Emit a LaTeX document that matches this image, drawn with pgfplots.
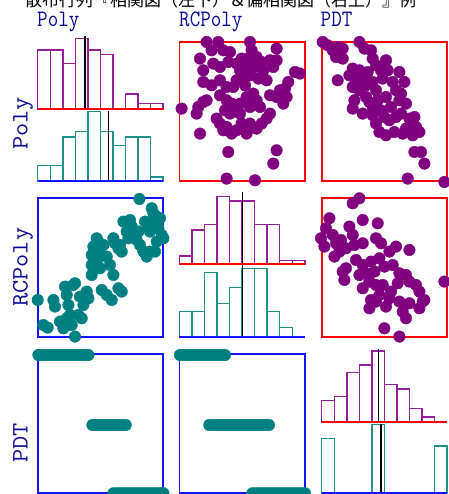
\documentclass[border=0pt]{standalone}
\usepackage{pgfplots}
\pgfplotsset{compat=1.18}
\usepackage{fontspec}
\setmainfont{Liberation Sans}
\newfontfamily\cjk{Noto Sans CJK JP}
\definecolor{ppurple}{RGB}{128,0,128}
\definecolor{tteal}{RGB}{0,128,128}
\definecolor{hpurple}{RGB}{150,30,155}
\definecolor{hteal}{RGB}{30,145,140}
\definecolor{labblue}{RGB}{10,10,150}
\definecolor{fblue}{RGB}{20,20,255}
\newcommand\hlab[1]{\textcolor{labblue}{\scalebox{1}[1.15]{\fontsize{20.5bp}{20.5bp}\selectfont\ttfamily #1}}}
\newcommand\vlab[1]{\textcolor{labblue}{\scalebox{1.25}[1.15]{\fontsize{20.5bp}{20.5bp}\selectfont\ttfamily #1}}}
\pgfplotsset{
  panel/.style={scale only axis, width=125.5bp, height=139bp, xmin=0, xmax=125.5, ymin=0, ymax=139,
    xtick=\empty, ytick=\empty, clip=false, anchor=south west, axis line style={draw=none}},
  hist/.style={scale only axis, width=125.5bp, height=#1 bp, xmin=0, xmax=125.5, ymin=0, ymax=#1,
    hide axis, clip=false, anchor=south west},
  pp/.style={only marks, color=ppurple, mark=*, mark size=5.8pt, mark options={draw=ppurple, fill=ppurple}},
  tp/.style={only marks, color=tteal, mark=*, mark size=5.8pt, mark options={draw=tteal, fill=tteal}},
  hb/.style={ybar interval, draw=#1, fill=none, line width=1.5bp},
}
\newcommand\frm[1]{\draw[#1, line width=1.6bp] (rel axis cs:0,0) rectangle (rel axis cs:1,1);}
\begin{document}
\begin{tikzpicture}
\useasboundingbox (0bp,0bp) rectangle (449bp,494bp);
% title (partly cut off at the top)
\node[anchor=base west, inner sep=0pt] at (25bp,487bp) {\fontsize{17bp}{17bp}\selectfont\cjk 散布行列『相関図（左下）＆偏相関図（右上）』例};
% column labels
\node[anchor=base west, inner sep=0pt] at (37bp,467.5bp) {\hlab{Poly}};
\node[anchor=base west, inner sep=0pt] at (179bp,467.5bp) {\hlab{RCPoly}};
\node[anchor=base west, inner sep=0pt] at (320.5bp,467.5bp) {\hlab{PDT}};
% row labels
\node[anchor=base west, rotate=90, inner sep=0pt] at (27.5bp,344bp) {\vlab{Poly}};
\node[anchor=base west, rotate=90, inner sep=0pt] at (27.5bp,187bp) {\vlab{RCPoly}};
\node[anchor=base west, rotate=90, inner sep=0pt] at (27.5bp,31bp) {\vlab{PDT}};

% ===== diagonal 1 (Poly) =====
\begin{axis}[hist=72.3, at={(37.7bp,312.7bp)}]
\addplot[hb=hteal] coordinates {(0,16) (12.55,16) (25.1,44.3) (37.65,50) (50.2,70) (62.75,50) (75.3,36) (87.85,44.3) (100.4,44.3) (112.95,4.3) (125.5,0)};
\addplot[black, line width=1.2bp] coordinates {(70.7,0) (70.7,70)};
\addplot[fblue, line width=1.6bp] coordinates {(0,0) (125.5,0)};
\end{axis}
\begin{axis}[hist=66, at={(37.7bp,385bp)}]
\addplot[hb=hpurple] coordinates {(0,59) (12.55,59) (25.1,45.7) (37.65,70.7) (50.2,59) (62.75,54.7) (75.3,0) (87.85,15) (100.4,5.3) (112.95,5.3) (125.5,0)};
\addplot[black, line width=1.2bp] coordinates {(47.3,0) (47.3,73.3)};
\addplot[red, line width=1.6bp] coordinates {(0,0) (125.5,0)};
\end{axis}

% ===== diagonal 2 (RCPoly) =====
\begin{axis}[hist=73.3, at={(179.3bp,156.7bp)}]
\addplot[hb=hteal] coordinates {(0,25.7) (12.55,25.7) (25.1,65) (37.65,33.7) (50.2,49.7) (62.75,69) (75.3,69) (87.85,25.7) (100.4,9.7) (112.95,0) (125.5,0)};
\addplot[black, line width=1.2bp] coordinates {(63,0) (63,73.3)};
\addplot[fblue, line width=1.6bp] coordinates {(0,0) (125.5,0)};
\end{axis}
\begin{axis}[hist=65.7, at={(179.3bp,230bp)}]
\addplot[hb=hpurple] coordinates {(0,8) (12.55,34) (25.1,39.7) (37.65,67.3) (50.2,63) (62.75,63) (75.3,39.7) (87.85,39.7) (100.4,3.7) (112.95,3.7) (125.5,0)};
\addplot[black, line width=1.2bp] coordinates {(63,0) (63,71.7)};
\addplot[red, line width=1.6bp] coordinates {(0,0) (125.5,0)};
\end{axis}

% ===== diagonal 3 (PDT) =====
\begin{axis}[hist=71, at={(321.7bp,0.7bp)}]
\addplot[hb=hteal] coordinates {(0,55) (12.55,0) (25.1,0) (37.65,0) (50.2,69) (62.75,0) (75.3,0) (87.85,0) (100.4,0) (112.95,47.3) (125.5,0)};
\addplot[black, line width=1.2bp] coordinates {(59.3,0) (59.3,69.3)};
\addplot[fblue, line width=1.6bp] coordinates {(0,0) (125.5,0)};
\end{axis}
\begin{axis}[hist=68, at={(321.7bp,71.7bp)}]
\addplot[hb=hpurple] coordinates {(0,21.7) (12.55,25.7) (25.1,49.7) (37.65,57.3) (50.2,71.3) (62.75,38) (75.3,33.3) (87.85,13.7) (100.4,5.3) (112.95,0) (125.5,0)};
\addplot[black, line width=1.2bp] coordinates {(56.7,0) (56.7,73.3)};
\addplot[red, line width=1.6bp] coordinates {(0,0) (125.5,0)};
\end{axis}

% ===== row1 col2 : Poly vs RCPoly (partial) =====
\begin{axis}[panel, at={(179.3bp,312.7bp)}]
\frm{red}
\addplot[pp] coordinates {
(27.3,139.3) (39,139.3) (32.3,131) (44,131) (50.7,129.3) (70.7,139.3) (72.3,131) (97.3,132.7)
(20.7,122.7) (24,111) (34,117.7) (40.7,114.3) (49,119.3) (57.3,117.7) (62.3,122.7) (69,122.7)
(77.3,124.3) (82.3,119.3) (90.7,121) (97.3,121) (60.7,111) (67.3,112.7) (75.7,114.3) (84,111)
(94,114.3) (70.7,106) (64,104.3) (57.3,101) (24,99.3) (32.3,96) (40.7,101) (47.3,94.3) (54,94.3)
(65.7,96) (79,102.7) (87.3,101) (120.7,107.7) (115.7,109.3) (109,99.3) (105.7,92.7) (100.7,91)
(90.7,86) (107.3,84.3) (104,77.7) (97.3,84.3) (40.7,86) (47.3,81) (52.3,77.7) (60.7,77.7)
(67.3,84.3) (74,87.7) (77.3,81) (70.7,74.3) (80.7,74.3) (2.3,72.7) (19,74.3) (24,79.3) (27.3,81)
(17.3,67.7) (45.7,71) (50.7,67.7) (55.7,71) (60.7,67.7) (37.3,62.7) (40.7,57.7) (47.3,54.3)
(57.3,51) (67.3,47.7) (77.3,52.7) (82.3,57.7) (87.3,62.7) (90.7,67.7) (70.7,57.7) (62.3,57.7)
(52.3,47.7) (44,51) (20.7,47.7) (49,29.3) (97.3,31) (94,17.7) (47.3,2.7) (75.7,1)
};
\end{axis}

% ===== row1 col3 : Poly vs PDT (partial) =====
\begin{axis}[panel, at={(321.7bp,312.7bp)}]
\frm{red}
\addplot[pp] coordinates {
(1,139.3) (6,136) (11,131) (16,134.3) (21,132.7) (14.3,124.3) (21,122.7) (37.7,139.3) (42.7,132.7)
(49.3,131) (51,122.7) (54.3,116) (64.3,121) (59.3,111) (66,111) (31,112.7) (37.7,111) (46,109.3)
(27.7,106) (34.3,101) (41,104.3) (16,101) (31,94.3) (37.7,91) (44.3,96) (51,99.3) (61,102.7)
(71,99.3) (77.7,109.3) (82.7,99.3) (79.3,87.7) (74.3,91) (54.3,91) (64.3,84.3) (56,81) (51,74.3)
(59.3,71) (69.3,74.3) (77.7,81) (84.3,77.7) (32.7,81) (31,72.7) (41,67.7) (51,66) (62.7,64.3)
(67.7,61) (74.3,64.3) (79.3,67.7) (87.7,62.7) (92.7,64.3) (84.3,52.7) (94.3,54.3) (97.7,49.3)
(54.3,57.7) (57.7,49.3) (64.3,46) (72.7,49.3) (81,47.7) (91,46) (92.7,29.3) (99.3,29.3)
(102.7,17.7) (86,2.7) (122.7,-0.7) (44.3,84.3) (47.7,79.3)
};
\end{axis}

% ===== row2 col1 : RCPoly vs Poly =====
\begin{axis}[panel, at={(37.7bp,156.7bp)}]
\frm{fblue}
\addplot[tp] coordinates {
(101.7,138.3) (0,37.3) (5.7,12.3) (10,9.7) (37.3,0.7) (15.7,37.3) (17.3,30.7) (22.3,15.7)
(27.3,50.7) (29,42.3) (30.7,32.3) (32.3,22.3) (34,12.3) (35.7,52.3) (37.3,54) (42.3,40.7)
(45.7,32.3) (49,45.7) (50.7,39) (40.7,22.3) (44,19) (29,19) (25.7,9) (54,62.3) (55.7,69)
(59,75.7) (62.3,82.3) (60.7,95.7) (59,99) (55.7,90.7) (54,82.3) (57.3,85.7) (54,72.3)
(65.7,92.3) (69,80.7) (72.3,72.3) (75.7,62.3) (62.3,69) (64,47.3) (69,42.3) (74,37.3)
(80.7,49) (84,45.7) (75.7,99) (77.3,94) (80.7,89) (84,85.7) (82.3,92.3) (85.7,115.7)
(92.3,117.3) (94,110.7) (89,105.7) (90.7,99) (95.7,102.3) (99,97.3) (100.7,105.7) (102.3,92.3)
(105.7,85.7) (109,80.7) (107.3,115.7) (110.7,110.7) (112.3,105.7) (115.7,115.7) (114,129)
(115.7,124) (119,120.7) (122.3,119) (120.7,109) (124,102.3) (125.7,99) (119,95.7) (117.3,85.7)
(112.3,85.7)
};
\end{axis}

% ===== row2 col3 : RCPoly vs PDT (partial) =====
\begin{axis}[panel, at={(321.7bp,156.7bp)}]
\frm{red}
\addplot[pp] coordinates {
(31,134) (37.7,139) (7.7,119) (4.3,109) (-0.7,99) (2.7,90.7) (11,102.3) (14.3,94) (19.3,97.3)
(12.7,80.7) (17.7,85.7) (27.7,110.7) (31,102.3) (41,117.3) (56,114) (24.3,89) (32.7,92.3)
(41,94) (54.3,99) (59.3,94) (67.7,85.7) (74.3,90.7) (87.7,87.3) (34.3,77.3) (41,72.3)
(49.3,75.7) (57.7,79) (62.7,70.7) (21,65.7) (22.7,57.3) (37.7,62.3) (44.3,64) (52.7,65.7)
(71,72.3) (77.7,64) (84.3,62.3) (41,49) (47.7,55.7) (54.3,52.3) (61,52.3) (69.3,45.7) (76,54)
(87.7,55.7) (94.3,52.3) (97.7,45.7) (102.7,37.3) (49.3,37.3) (54.3,35.7) (57.7,42.3) (67.7,39)
(77.7,35.7) (87.7,34) (47.7,29) (64.3,30.7) (81,25.7) (84.3,19) (97.7,29) (101,35.7) (62.7,9)
(77.7,0.7) (122.7,55.7) (24.3,69)
};
\end{axis}

% ===== row3 col1 : PDT vs Poly =====
\begin{axis}[panel, at={(37.7bp,0.7bp)}]
\frm{fblue}
\addplot[tp] coordinates {
(0.7,138.3) (3.5,138.3) (6.5,138.3) (9.5,138.3) (12.5,138.3) (15.5,138.3) (18.5,138.3) (21.5,138.3)
(24.5,138.3) (27.5,138.3) (30.5,138.3) (33.5,138.3) (36.5,138.3) (39.5,138.3) (42.5,138.3)
(45.5,138.3) (48.5,138.3) (50.7,138.3)
(54.7,68.3) (57.5,68.3) (60.5,68.3) (63.5,68.3) (66.5,68.3) (69.5,68.3) (72.5,68.3) (75.5,68.3)
(78.5,68.3) (81.5,68.3) (84.5,68.3) (88,68.3)
(75.7,0) (79,0) (82,0) (85,0) (88,0) (91,0) (94,0) (97,0) (100,0) (103,0) (106,0) (109,0)
(112,0) (115,0) (118,0) (121,0) (124,0) (125.7,0)
};
\end{axis}

% ===== row3 col2 : PDT vs RCPoly =====
\begin{axis}[panel, at={(179.3bp,0.7bp)}]
\frm{fblue}
\addplot[tp] coordinates {
(0.7,138.3) (3.5,138.3) (6.5,138.3) (9.5,138.3) (12.5,138.3) (15.5,138.3) (18.5,138.3) (21.5,138.3)
(24.5,138.3) (27.5,138.3) (30.5,138.3) (33.5,138.3) (36.5,138.3) (39.5,138.3) (42.5,138.3) (45.7,138.3)
(30,68.3) (33,68.3) (36,68.3) (39,68.3) (42,68.3) (45,68.3) (48,68.3) (51,68.3) (54,68.3) (57,68.3)
(60,68.3) (63,68.3) (66,68.3) (69,68.3) (72,68.3) (75,68.3) (78,68.3) (81,68.3) (84,68.3) (87,68.3) (89.7,68.3)
(73,0) (76,0) (79,0) (82,0) (85,0) (88,0) (91,0) (94,0) (97,0) (100,0) (103,0) (106,0) (109,0)
(112,0) (115,0) (118,0) (121,0) (124,0) (125.7,0)
};
\end{axis}
\end{tikzpicture}
\end{document}
